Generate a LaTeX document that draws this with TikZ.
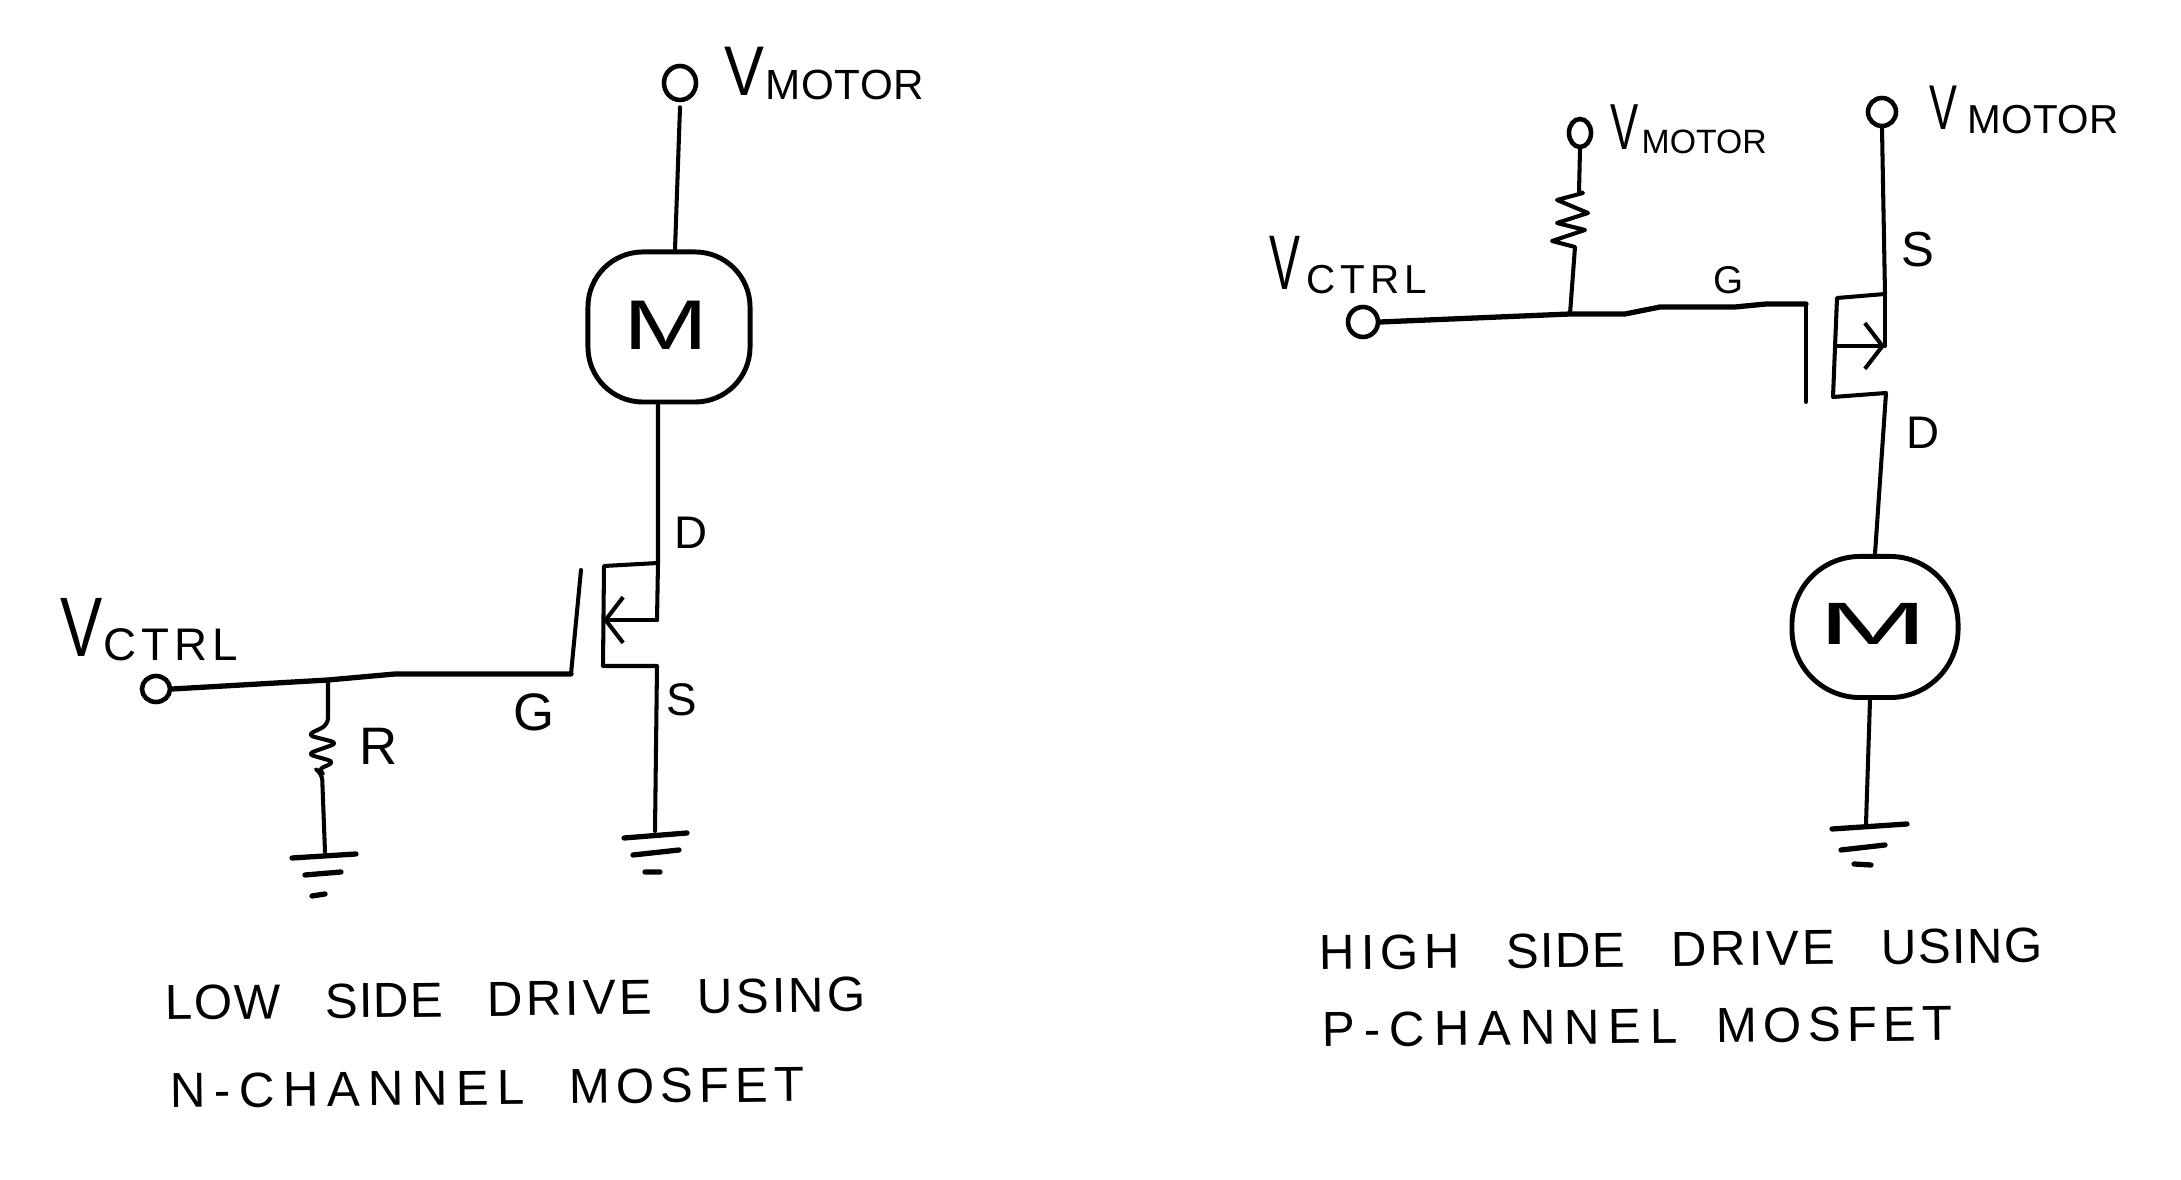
\documentclass[tikz,border=0pt]{standalone}
\usepackage{fontspec}
\newfontfamily\handfont{Liberation Sans}
\usetikzlibrary{positioning}
\usetikzlibrary{arrows.meta}
\usetikzlibrary{shapes.geometric}
\newcommand{\vlabel}[6]{{\fontsize{#2}{#2}\selectfont\scalebox{#6}[1]{V}}\kern#5pt\raisebox{-1pt}{\fontsize{#3}{#3}\selectfont\addfontfeature{LetterSpace=#4}#1}}
\newcommand{\spaced}[2]{{\addfontfeature{LetterSpace=#1}#2}}
\tikzset{
    wire/.style={line width=1.15pt, line cap=round, line join=round},
    thick wire/.style={wire, line width=1.5pt},
    term/.style={draw, ellipse, line width=1.3pt, inner sep=0pt},
    motor/.style={draw, line width=1.4pt, inner sep=0pt},
    hand/.style={font=\handfont, inner sep=0pt, text=black},
    caption/.style={hand, anchor=base west, font=\handfont\fontsize{14}{14}\selectfont},
    barb/.style={-{Straight Barb[length=5pt,width=13pt]}},
}
\begin{document}
\begin{tikzpicture}[x=0.01cm, y=-0.01cm]
    \useasboundingbox (0,0) rectangle (2181,1180);
    % low side
    \node[term, minimum width=0.32cm, minimum height=0.34cm] (vmotorA) at (680,83) {};
    \node[hand, anchor=base west] (vmotorAname) at (724,96) {\vlabel{MOTOR}{20}{12}{1.5}{0.3}{0.85}};
    \node[motor, rounded corners=0.55cm, minimum width=1.62cm, minimum height=1.5cm] (motorA) at (669,327) {};
    \node[hand] (motorAname) at (666,325) {\fontsize{20}{20}\selectfont\scalebox{1.45}[1]{M}};
    \coordinate (drainA) at (658,563);
    \coordinate (boxAtl) at (604,566);
    \coordinate (boxAbl) at (603,666);
    \coordinate (boxAbr) at (657,666);
    \coordinate (boxAm) at (657,620);
    \coordinate (gateAt) at (581,570);
    \coordinate (gateAb) at (571,674);
    \coordinate (juncA) at (328,680);
    \node[term, minimum width=0.28cm, minimum height=0.26cm] (vctrlA) at (156,689) {};
    \node[hand, anchor=base west] (vctrlAname) at (60,657) {\vlabel{CTRL}{24}{13}{11}{0.3}{0.75}};
    \coordinate (groundAs) at (655,831);
    \coordinate (groundAr) at (325,852);
    \draw[wire] (vmotorA.south) ++(0,5) -- ([xshift=0.06cm]motorA.north);
    \draw[wire] ([xshift=-0.11cm]motorA.south) -- (drainA) -- (boxAtl) -- (boxAbl) -- (boxAbr) -- (groundAs);
    \draw[wire] (drainA) -- (boxAm);
    \draw[wire, barb] (boxAm) -- (boxAbl |- boxAm);
    \draw[wire] (gateAt) -- (gateAb);
    \draw[thick wire] (vctrlA.east) -- (juncA) -- (395,674) -- (gateAb);
    \draw[wire, rounded corners=2pt] (juncA) -- (328,725) -- (307,735) -- (338,743) -- (307,754) -- (335,762) -- (317,770) -- (322,773) -- (groundAr);
    \draw[thick wire] (292,858) -- (356,854) (305,875) -- (341,872) (312,896) -- (325,894);
    \draw[thick wire] (624,838) -- (687,833) (633,855) -- (679,850) (645,872) -- (660,872);
    \node[hand, font=\handfont\fontsize{13}{13}\selectfont] (drainAname) at (691,533) {D};
    \node[hand, font=\handfont\fontsize{15}{15}\selectfont] (gateAname) at (534,712) {G};
    \node[hand, font=\handfont\fontsize{13}{13}\selectfont] (sourceAname) at (682,700) {S};
    \node[hand, font=\handfont\fontsize{15}{15}\selectfont] (resAname) at (379,746) {R};
    \node[caption, rotate=0.7] (captionA) at (165,1020) {\spaced{3}{LOW}\kern12.7pt\spaced{2}{SIDE}\kern12.7pt\spaced{7}{DRIVE}\kern13pt\spaced{6}{USING}};
    \node[caption, rotate=0.6] (captionB) at (170,1108) {\spaced{17}{N-CHANNEL}\kern12.7pt\spaced{12}{MOSFET}};
    % high side
    \node[term, minimum width=0.22cm, minimum height=0.28cm] (vmotorB) at (1580,133) {};
    \node[hand, anchor=base west] (vmotorBname) at (1610,150) {\vlabel{MOTOR}{18.5}{9.6}{0}{0.8}{0.65}};
    \node[term, minimum width=0.28cm, minimum height=0.28cm] (vmotorC) at (1882,112) {};
    \node[hand, anchor=base west] (vmotorCname) at (1929,130) {\vlabel{MOTOR}{18}{11.5}{1}{2.8}{0.66}};
    \node[term, minimum width=0.3cm, minimum height=0.3cm] (vctrlB) at (1363,322) {};
    \node[hand, anchor=base west] (vctrlBname) at (1269,290) {\vlabel{CTRL}{22}{11.5}{12}{1.7}{0.6}};
    \node[motor, rounded corners=0.68cm, minimum width=1.66cm, minimum height=1.41cm] (motorB) at (1875,627) {};
    \node[hand] (motorBname) at (1873,624) {\fontsize{17}{17}\selectfont\scalebox{2.2}[1]{M}};
    \coordinate (sourceB) at (1885,294);
    \coordinate (boxBtl) at (1837,298);
    \coordinate (boxBbl) at (1833,397);
    \coordinate (boxBbr) at (1886,393);
    \coordinate (boxBm) at (1835,346);
    \coordinate (arrowB) at (1885,346);
    \coordinate (gateBt) at (1806,304);
    \coordinate (gateBb) at (1806,402);
    \coordinate (juncB) at (1570,314);
    \coordinate (groundB) at (1866,824);
    \draw[wire] (vmotorC.south) -- (sourceB) -- (boxBtl) -- (boxBbl) -- (boxBbr) -- (motorB.north);
    \draw[wire] (sourceB) -- (arrowB);
    \draw[wire, barb] (boxBm) -- (arrowB);
    \draw[wire] ([xshift=-0.05cm]motorB.south) -- (groundB);
    \draw[wire] (gateBb) -- (gateBt);
    \draw[thick wire] (vctrlB.east) -- (juncB) -- (1625,314) -- (1660,307) -- (1735,307) -- (1766,304) -- (gateBt);
    \draw[wire] (vmotorB.south) -- (1579,192);
    \draw[wire] (1579,192) -- (1583,193) -- (1557,200) -- (1588,213) -- (1557,223) -- (1585,230) -- (1552,241) -- (1575,247) -- (juncB);
    \draw[thick wire] (1832,829) -- (1907,824) (1841,850) -- (1885,845) (1854,864) -- (1871,865);
    \node[hand, font=\handfont\fontsize{14}{14}\selectfont] (sourceBname) at (1918,250) {S};
    \node[hand, font=\handfont\fontsize{11}{11}\selectfont] (gateBname) at (1729,280) {G};
    \node[hand, font=\handfont\fontsize{13}{13}\selectfont] (drainBname) at (1923,433) {D};
    \node[caption, rotate=0.6] (captionC) at (1319,970) {\spaced{12}{HIGH}\kern13pt\spaced{3}{SIDE}\kern13pt\spaced{7}{DRIVE}\kern13pt\spaced{3}{USING}};
    \node[caption, rotate=0.6] (captionD) at (1322,1047) {\spaced{18}{P-CHANNEL}\kern11pt\spaced{12.5}{MOSFET}};
\end{tikzpicture}
\end{document}
